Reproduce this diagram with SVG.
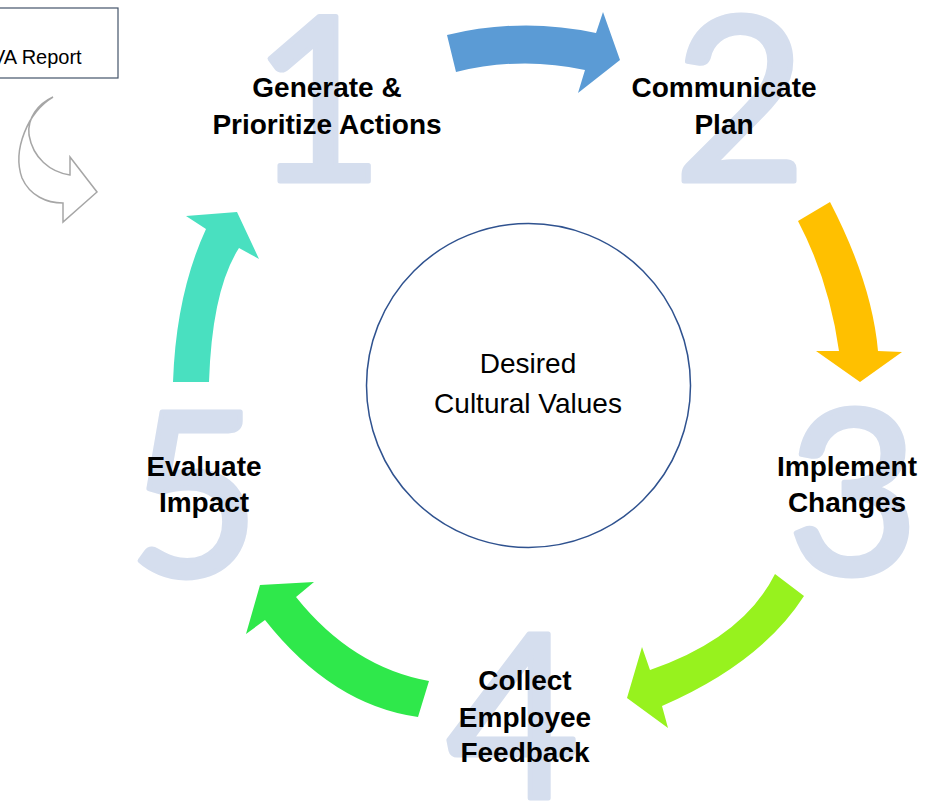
<svg xmlns="http://www.w3.org/2000/svg" width="928" height="801" viewBox="0 0 928 801">
<style>
.digit{font-family:Lato,"Open Sans","Liberation Sans",sans-serif;font-size:230px;fill:#D5DEEE;stroke:#D5DEEE;stroke-width:5;stroke-linejoin:round;text-anchor:middle}
.lbl{font-family:"Liberation Sans",Arial,sans-serif;font-size:28px;font-weight:bold;fill:#000;text-anchor:middle}
.ctr{font-family:"Liberation Sans",Arial,sans-serif;font-size:28px;fill:#000;text-anchor:middle}
.rep{font-family:"Liberation Sans",Arial,sans-serif;font-size:20px;fill:#000}
</style>
<rect width="928" height="801" fill="#fff"/>
<g id="report">
<rect x="-2" y="8" width="120" height="70" fill="#fff" stroke="#44546A" stroke-width="1.2"/>
<text class="rep" x="-8" y="64">VA Report</text>
<path d="M53,97 C28,112 12,150 22,178 C30,196 47,203 63,203 L63,222 L97,192 L70,157 L70,175 C50,172 33,158 29,135 C27,118 38,104 53,97 Z" fill="#fff" stroke="#A6A6A6" stroke-width="1.5" stroke-linejoin="miter"/>
</g>
<g id="digits">
<text class="digit" x="318" y="181">1</text>
<text class="digit" x="740" y="181">2</text>
<text class="digit" x="853" y="574">3</text>
<text class="digit" x="513" y="798">4</text>
<text class="digit" x="194" y="576">5</text>
</g>
<g id="connectors">
<path id="arrow-1-2" d="M447,35 Q522,17 596,33 L603,12 L620,60 L578,93 L585,70 Q521,56 456,72 Z" fill="#5B9BD5"/>
<path id="arrow-2-3" d="M798,221 L830,202 Q872,283 878,351 L902,352 L860,382 L816,351 L839,351 Q829,280 798,221 Z" fill="#FFC000"/>
<path id="arrow-3-4" d="M775,574 L804,596 Q761,663 662,706 L668,728 L627,698 L642,647 L650,670 Q743,638 775,574 Z" fill="#97F21E"/>
<path id="arrow-4-5" d="M429,681 L418,717 Q332,705 265,620 L246,634 L260,585 L314,582 L296,597 Q352,667 429,681 Z" fill="#2FE84B"/>
<path id="arrow-5-1" d="M173,382 Q176,294 206,229 L186,216 L237,212 L259,259 L239,248 Q212,290 209,382 Z" fill="#49E0C0"/>
</g>
<g id="center">
<circle cx="528.5" cy="385.5" r="162" fill="#fff" stroke="#2F528F" stroke-width="1.5"/>
<text class="ctr" x="528" y="373">Desired</text>
<text class="ctr" x="528" y="413">Cultural Values</text>
</g>
<g id="step1">
<text class="lbl" x="327" y="97">Generate &amp;</text>
<text class="lbl" x="327" y="134">Prioritize Actions</text>
</g>
<g id="step2">
<text class="lbl" x="724" y="97">Communicate</text>
<text class="lbl" x="724" y="134">Plan</text>
</g>
<g id="step3">
<text class="lbl" x="847" y="476">Implement</text>
<text class="lbl" x="847" y="512">Changes</text>
</g>
<g id="step4">
<text class="lbl" x="525" y="690">Collect</text>
<text class="lbl" x="525" y="727">Employee</text>
<text class="lbl" x="525" y="762">Feedback</text>
</g>
<g id="step5">
<text class="lbl" x="204" y="476">Evaluate</text>
<text class="lbl" x="204" y="512">Impact</text>
</g>
</svg>
